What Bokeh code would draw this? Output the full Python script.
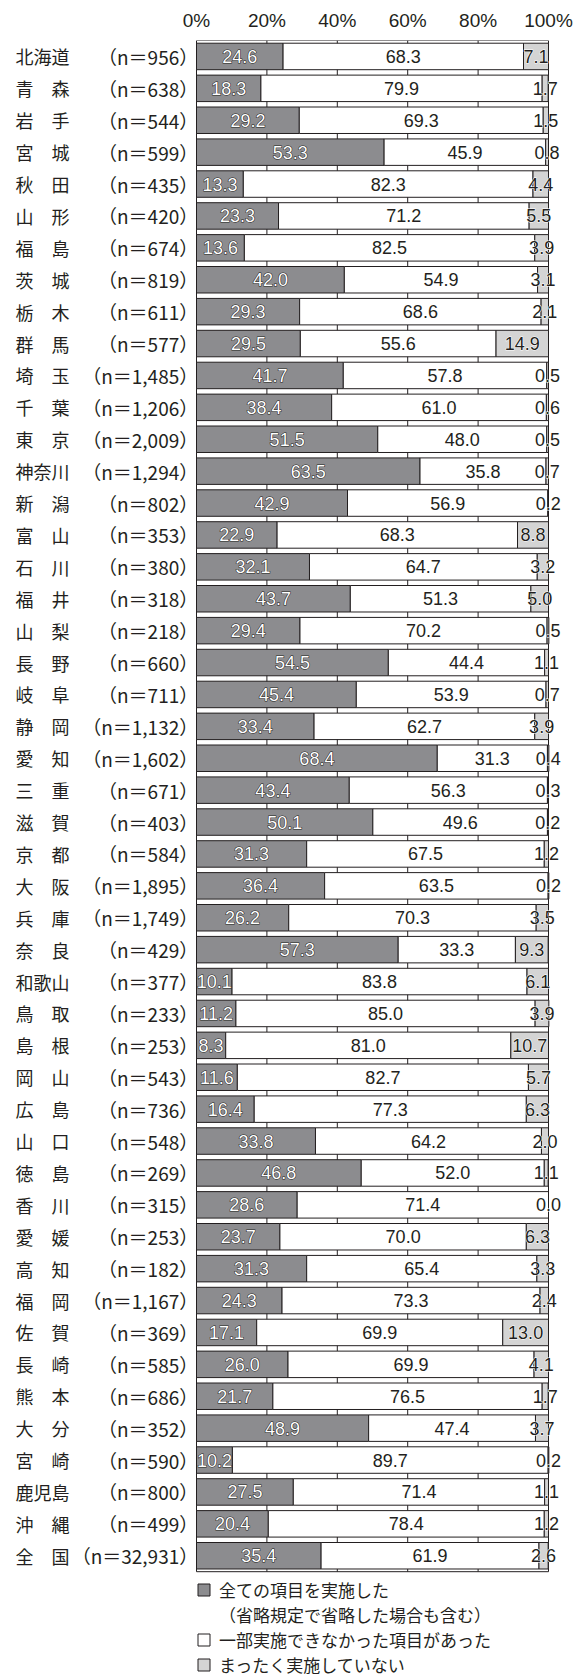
from bokeh.plotting import figure
from bokeh.models import (Range1d, ColumnDataSource, FixedTicker, Legend, LegendItem)
from bokeh.core.properties import value
from bokeh.embed import file_html
from bokeh.resources import INLINE

# ---------------- data ----------------
prefectures = ["北海道", "青　森", "岩　手", "宮　城", "秋　田", "山　形", "福　島", "茨　城",
               "栃　木", "群　馬", "埼　玉", "千　葉", "東　京", "神奈川", "新　潟", "富　山",
               "石　川", "福　井", "山　梨", "長　野", "岐　阜", "静　岡", "愛　知", "三　重",
               "滋　賀", "京　都", "大　阪", "兵　庫", "奈　良", "和歌山", "鳥　取", "島　根",
               "岡　山", "広　島", "山　口", "徳　島", "香　川", "愛　媛", "高　知", "福　岡",
               "佐　賀", "長　崎", "熊　本", "大　分", "宮　崎", "鹿児島", "沖　縄", "全　国"]
n_counts = ["956", "638", "544", "599", "435", "420", "674", "819",
            "611", "577", "1,485", "1,206", "2,009", "1,294", "802", "353",
            "380", "318", "218", "660", "711", "1,132", "1,602", "671",
            "403", "584", "1,895", "1,749", "429", "377", "233", "253",
            "543", "736", "548", "269", "315", "253", "182", "1,167",
            "369", "585", "686", "352", "590", "800", "499", "32,931"]
all_done = [24.6, 18.3, 29.2, 53.3, 13.3, 23.3, 13.6, 42.0,
            29.3, 29.5, 41.7, 38.4, 51.5, 63.5, 42.9, 22.9,
            32.1, 43.7, 29.4, 54.5, 45.4, 33.4, 68.4, 43.4,
            50.1, 31.3, 36.4, 26.2, 57.3, 10.1, 11.2, 8.3,
            11.6, 16.4, 33.8, 46.8, 28.6, 23.7, 31.3, 24.3,
            17.1, 26.0, 21.7, 48.9, 10.2, 27.5, 20.4, 35.4]
partly_done = [68.3, 79.9, 69.3, 45.9, 82.3, 71.2, 82.5, 54.9,
               68.6, 55.6, 57.8, 61.0, 48.0, 35.8, 56.9, 68.3,
               64.7, 51.3, 70.2, 44.4, 53.9, 62.7, 31.3, 56.3,
               49.6, 67.5, 63.5, 70.3, 33.3, 83.8, 85.0, 81.0,
               82.7, 77.3, 64.2, 52.0, 71.4, 70.0, 65.4, 73.3,
               69.9, 69.9, 76.5, 47.4, 89.7, 71.4, 78.4, 61.9]
not_done = [7.1, 1.7, 1.5, 0.8, 4.4, 5.5, 3.9, 3.1,
            2.1, 14.9, 0.5, 0.6, 0.5, 0.7, 0.2, 8.8,
            3.2, 5.0, 0.5, 1.1, 0.7, 3.9, 0.4, 0.3,
            0.2, 1.2, 0.2, 3.5, 9.3, 6.1, 3.9, 10.7,
            5.7, 6.3, 2.0, 1.1, 0.0, 6.3, 3.3, 2.4,
            13.0, 4.1, 1.7, 3.7, 0.2, 1.1, 1.2, 2.6]
series_names = ["全ての項目を実施した",
                "一部実施できなかった項目があった",
                "まったく実施していない"]
series_note = "（省略規定で省略した場合も含む）"
series_colors = ["#8c8c8f", "#ffffff", "#d4d4d4"]
ticks = [0, 20, 40, 60, 80, 100]
tick_labels = ["0%", "20%", "40%", "60%", "80%", "100%"]

# ---------------- layout constants ----------------
W, H = 576, 1674
TOP = 40                 # frame top (canvas px)
ROW_PX = 31.9            # px per row
X0_PX, PX_PER_PCT = 196, 3.52
n_rows = len(prefectures)
frame_h = H - TOP
y_bottom = -0.5 + frame_h / ROW_PX
x_left = -X0_PX / PX_PER_PCT
x_right = (W - X0_PX) / PX_PER_PCT

DARK = "#231f20"
JP = value("Noto Sans CJK JP")
NUM = value("Liberation Sans")

rows = list(range(n_rows))
c1 = [a / 2 for a in all_done]
c2 = [a + b / 2 for a, b in zip(all_done, partly_done)]
c3 = [a + b + c / 2 for a, b, c in zip(all_done, partly_done, not_done)]
src = ColumnDataSource(dict(
    y=rows, pref=prefectures, n=["（n＝%s）" % s for s in n_counts],
    s1=all_done, s2=partly_done, s3=not_done,
    t1=["%.1f" % v for v in all_done], t2=["%.1f" % v for v in partly_done],
    t3=["%.1f" % v for v in not_done], c1=c1, c2=c2, c3=c3,
))

p = figure(width=W, height=H, output_backend="svg", toolbar_location=None,
           x_range=Range1d(x_left, x_right), y_range=Range1d(y_bottom, -0.5),
           x_axis_location="above", y_axis_location=None,
           min_border_left=0, min_border_right=0, min_border_bottom=0, min_border_top=TOP)
p.outline_line_color = None
p.xgrid.visible = False
p.ygrid.visible = False
p.background_fill_color = "white"

ax = p.xaxis[0]
ax.ticker = FixedTicker(ticks=ticks)
ax.major_label_overrides = {t: l for t, l in zip(ticks, tick_labels)}
ax.axis_line_color = None
ax.major_tick_line_color = None
ax.minor_tick_line_color = None
ax.major_label_standoff = 4
ax.major_label_text_font = "Liberation Sans"
ax.major_label_text_font_size = "19px"
ax.major_label_text_color = DARK

# frame / grid lines (0..100 %, only over the bar area)
y_top_edge, y_bot_edge = -0.5, n_rows - 0.5
p.segment(x0=ticks, x1=ticks, y0=[y_top_edge] * len(ticks), y1=[y_bot_edge] * len(ticks),
          line_color=DARK, line_width=1)
p.segment(x0=[ticks[0], ticks[0]], x1=[ticks[-1], ticks[-1]], y0=[y_top_edge, y_bot_edge],
          y1=[y_top_edge, y_bot_edge], line_color=DARK, line_width=1)

# bars
renderers = p.hbar_stack(["s1", "s2", "s3"], y="y", height=0.83, source=src,
                         fill_color=series_colors, line_color=DARK, line_width=1)

# value labels (halo layer first, then fill layer)
lbl = dict(source=src, y="y", text_align="center", text_baseline="middle",
           text_font=NUM, text_font_size="18px")
p.text(x="c1", text="t1", text_color=DARK, text_outline_color=DARK, **lbl)
p.text(x="c1", text="t1", text_color="white", **lbl)
p.text(x="c2", text="t2", text_color=DARK, **lbl)
p.text(x="c3", text="t3", text_color="white", text_outline_color="white", **lbl)
p.text(x="c3", text="t3", text_color=DARK, **lbl)

# row labels
p.text(x=x_left + 15 / PX_PER_PCT, y="y", text="pref", source=src, text_align="left",
       text_baseline="middle", text_font=JP, text_font_size="18px", text_color=DARK)
p.text(x=0.5, y="y", text="n", source=src, text_align="right",
       text_baseline="middle", text_font=JP, text_font_size="19px", text_color=DARK)

# invisible renderer that only carries the second line of the first legend entry
note_r = p.rect(x=[], y=[], width=1, height=1, fill_alpha=0, line_alpha=0)

items = [LegendItem(label=series_names[0], renderers=[renderers[0]]),
         LegendItem(label=series_note, renderers=[note_r]),
         LegendItem(label=series_names[1], renderers=[renderers[1]]),
         LegendItem(label=series_names[2], renderers=[renderers[2]])]
legend = Legend(items=items, location=(X0_PX, -3), orientation="vertical",
                padding=0, margin=0, spacing=-4, label_height=20,
                glyph_width=15, glyph_height=15, label_standoff=8,
                label_text_font="Noto Sans CJK JP", label_text_font_size="17px",
                label_text_color=DARK, label_text_baseline="middle",
                border_line_color=None, background_fill_alpha=0)
p.add_layout(legend)

open("out.html", "w").write(file_html(p, INLINE))
